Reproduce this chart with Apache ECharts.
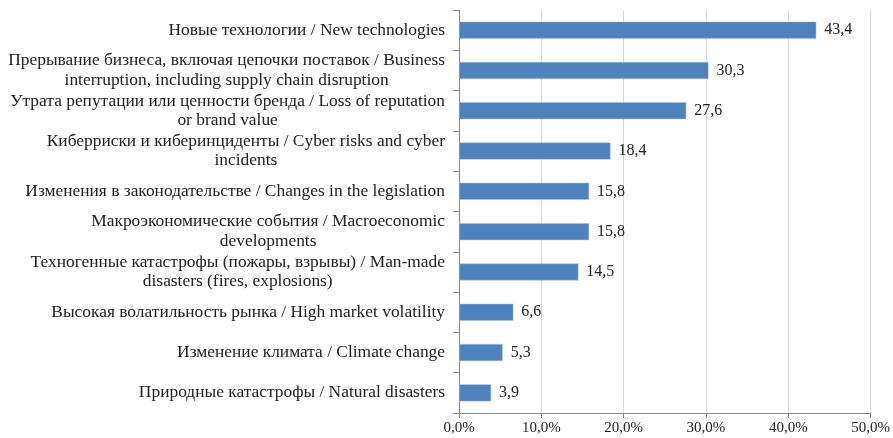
<!DOCTYPE html>
<html>
<head>
<meta charset="utf-8">
<script src="https://cdn.jsdelivr.net/npm/echarts@6/dist/echarts.min.js"></script>
<style>html,body{margin:0;padding:0;background:#fff}#c{width:893px;height:438px}</style>
</head>
<body>
<div id="c"></div>
<script>
var categories = [
  "Новые технологии / New technologies",
  "Прерывание бизнеса, включая цепочки поставок / Business\ninterruption, including supply chain disruption",
  "Утрата репутации или ценности бренда / Loss of reputation\nor brand value",
  "Киберриски и киберинциденты / Cyber risks and cyber\nincidents",
  "Изменения в законодательстве / Changes in the legislation",
  "Макроэкономические события / Macroeconomic\ndevelopments",
  "Техногенные катастрофы (пожары, взрывы) / Man-made\ndisasters (fires, explosions)",
  "Высокая волатильность рынка / High market volatility",
  "Изменение климата / Climate change",
  "Природные катастрофы / Natural disasters"
];
var values = [43.4, 30.3, 27.6, 18.4, 15.8, 15.8, 14.5, 6.6, 5.3, 3.9];
var axisMin = 0, axisMax = 50, axisStep = 10;

var chart = echarts.init(document.getElementById('c'), null, {renderer: 'canvas'});
var font = '"Liberation Serif", "Times New Roman", serif';
chart.setOption({
  animation: false,
  grid: {left: 459, right: 21, top: 10, bottom: 25, containLabel: false},
  xAxis: {
    type: 'value', min: axisMin, max: axisMax, interval: axisStep,
    axisLine: {show: true, lineStyle: {color: '#868686', width: 1}},
    axisTick: {show: true, length: 5, lineStyle: {color: '#868686'}},
    splitLine: {show: true, lineStyle: {color: '#d9d9d9', width: 1}},
    axisLabel: {
      fontFamily: font, fontSize: 15, color: '#222', margin: 8,
      formatter: function (v) { return v.toFixed(1).replace('.', ',') + '%'; }
    }
  },
  yAxis: {
    type: 'category', data: categories, inverse: true,
    axisLine: {show: true, lineStyle: {color: '#868686', width: 1}},
    axisTick: {show: true, length: 6, alignWithLabel: false, lineStyle: {color: '#868686'}},
    axisLabel: {
      fontFamily: font, fontSize: 17.4, color: '#222', margin: 14, lineHeight: 19.5,
      formatter: function (v) {
        return v.split('\n').map(function (s) { return '{c|' + s + '}'; }).join('\n');
      },
      rich: {c: {align: 'center', fontFamily: font, fontSize: 17.4, color: '#222', lineHeight: 19.5}}
    }
  },
  series: [{
    type: 'bar', data: values, barWidth: 17,
    itemStyle: {color: '#4F81BD', borderColor: '#a9c0e0', borderWidth: 0.5},
    label: {
      show: true, position: 'right', distance: 8,
      fontFamily: font, fontSize: 16, color: '#222',
      formatter: function (p) { return p.value.toFixed(1).replace('.', ','); }
    }
  }]
});
</script>
</body>
</html>
